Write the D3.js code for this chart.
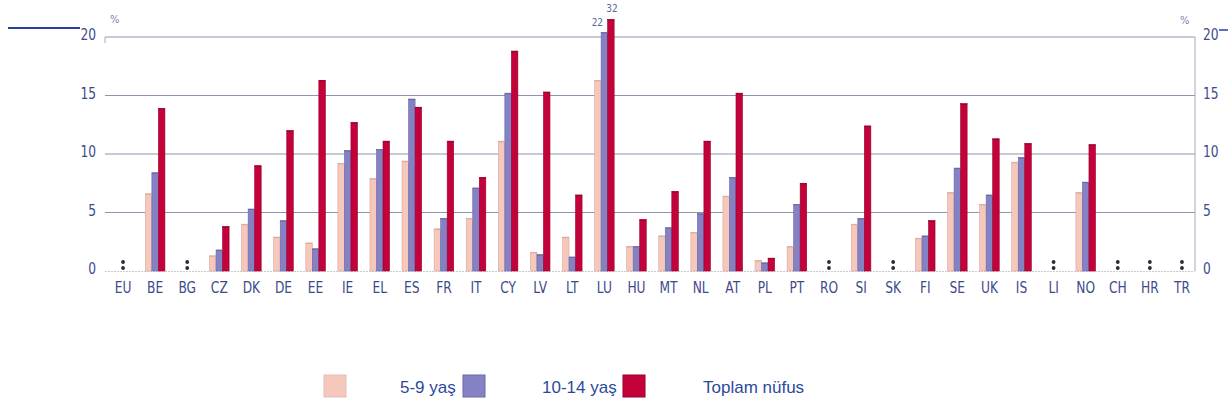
<!DOCTYPE html>
<html><head><meta charset="utf-8">
<script src="https://cdn.jsdelivr.net/npm/d3@7"></script>
<style>
html,body{margin:0;padding:0;background:#fff;}
svg{display:block;}
</style></head>
<body>
<svg id="chart" width="1232" height="411"></svg>
<script>
const categories = ["EU","BE","BG","CZ","DK","DE","EE","IE","EL","ES","FR","IT","CY","LV","LT","LU","HU","MT","NL","AT","PL","PT","RO","SI","SK","FI","SE","UK","IS","LI","NO","CH","HR","TR"];
const age5to9   = [null,6.6,null,1.3,4.0,2.9,2.4,9.2,7.9,9.4,3.6,4.5,11.1,1.6,2.9,16.3,2.1,3.0,3.3,6.4,0.9,2.1,null,4.0,null,2.8,6.7,5.7,9.3,null,6.7,null,null,null];
const age10to14 = [null,8.4,null,1.8,5.3,4.3,1.9,10.3,10.4,14.7,4.5,7.1,15.2,1.4,1.2,22,2.1,3.7,4.9,8.0,0.7,5.7,null,4.5,null,3.0,8.8,6.5,9.7,null,7.6,null,null,null];
const totalPop  = [null,13.9,null,3.8,9.0,12.0,16.3,12.7,11.1,14.0,11.1,8.0,18.8,15.3,6.5,32,4.4,6.8,11.1,15.2,1.1,7.5,null,12.4,null,4.3,14.3,11.3,10.9,null,10.8,null,null,null];
const seriesNames = ["5-9 yaş","10-14 yaş","Toplam nüfus"];
const yTicks = [0,5,10,15,20];
// visual break cap (axis ends at 20; out-of-range bars are drawn cut and labelled)
const breakCaps = [20, 20.4, 21.5];

const colors = ["#f5c8bb","#8482c4","#c3023a"];
const strokes = ["#d8a89c","#6a68a6","#98002e"];
const svg = d3.select("#chart");
const font = "'DejaVu Sans Condensed','Liberation Sans',sans-serif";
const textCol = "#3d4b8c";

const x = d3.scaleBand().domain(categories).range([107,1198]).paddingInner(0.39).paddingOuter(0.195);
const y = d3.scaleLinear().domain([0,20]).range([271,37]);
const xs = d3.scaleBand().domain(d3.range(3)).range([0,x.bandwidth()]);

// header decoration
svg.append("line").attr("x1",8).attr("x2",80).attr("y1",28).attr("y2",28).attr("stroke","#2a3fa0").attr("stroke-width",2);
svg.append("line").attr("x1",1219).attr("x2",1228).attr("y1",30).attr("y2",30).attr("stroke","#2a3fa0").attr("stroke-width",1.5);

// gridlines
svg.append("g").selectAll("line").data(yTicks.filter(d=>d>0)).join("line")
  .attr("x1",105).attr("x2",1195).attr("y1",d=>y(d)).attr("y2",d=>y(d))
  .attr("stroke","#8e93b3").attr("stroke-width",1.2);
svg.append("line").attr("x1",105).attr("x2",1195).attr("y1",y(0)+0.5).attr("y2",y(0)+0.5)
  .attr("stroke","#c9cbdc").attr("stroke-width",1).attr("stroke-dasharray","2,1");
svg.append("line").attr("x1",1195).attr("x2",1195).attr("y1",y(20)).attr("y2",y(0))
  .attr("stroke","#a4a8c2").attr("stroke-width",1);
svg.append("line").attr("x1",105).attr("x2",105).attr("y1",y(20)).attr("y2",y(20)+6)
  .attr("stroke","#a4a8c2").attr("stroke-width",1);

// axes
const leftAx = svg.append("g").attr("transform","translate(96,0)")
  .call(d3.axisLeft(y).tickValues(yTicks).tickSize(0).tickPadding(0));
const rightAx = svg.append("g").attr("transform","translate(1203,0)")
  .call(d3.axisRight(y).tickValues(yTicks).tickSize(0).tickPadding(0));
[leftAx,rightAx].forEach(g=>{
  g.select(".domain").remove();
  g.selectAll("text").attr("font-family",font).attr("font-size",16).attr("fill",textCol)
    .attr("y",-3).attr("dy","0.35em").attr("transform","scale(0.85,1)");
});
svg.append("text").attr("x",110).attr("y",23).text("%").attr("font-family",font).attr("font-size",11).attr("fill","#7d86ad");
svg.append("text").attr("x",1180).attr("y",24).text("%").attr("font-family",font).attr("font-size",11).attr("fill","#7d86ad");

const bottomAx = svg.append("g").attr("transform","translate(0,280)")
  .call(d3.axisBottom(x).tickSize(0).tickPadding(0));
bottomAx.select(".domain").remove();
bottomAx.selectAll("text").attr("font-family",font).attr("font-size",16).attr("fill",textCol)
  .attr("dy","0.8em").attr("transform","scale(0.85,1)");

// bars
const series = [age5to9, age10to14, totalPop];
const barData = [];
series.forEach((arr,si)=>arr.forEach((v,ci)=>{ if(v!==null) barData.push({c:categories[ci],s:si,v}); }));
const bars = svg.append("g");
bars.selectAll("rect").data(barData).join("rect")
  .attr("x",d=>x(d.c)+xs(d.s))
  .attr("width",xs.bandwidth())
  .attr("y",d=>y(Math.min(d.v,breakCaps[d.s])))
  .attr("height",d=>y(0)-y(Math.min(d.v,breakCaps[d.s])))
  .attr("fill",d=>colors[d.s])
  .attr("stroke",d=>strokes[d.s]).attr("stroke-width",0.6);
// dark top caps
bars.selectAll("line").data(barData).join("line")
  .attr("x1",d=>x(d.c)+xs(d.s)).attr("x2",d=>x(d.c)+xs(d.s)+xs.bandwidth())
  .attr("y1",d=>y(Math.min(d.v,breakCaps[d.s]))+0.5).attr("y2",d=>y(Math.min(d.v,breakCaps[d.s]))+0.5)
  .attr("stroke",d=>strokes[d.s]).attr("stroke-width",1);

// values beyond the axis
const over = barData.filter(d=>d.v>20 && d.s>0);
svg.append("g").selectAll("text").data(over).join("text")
  .attr("x",d=> d.s===1 ? x(d.c)+xs(d.s)+2 : x(d.c)+xs(d.s)+xs.bandwidth()/2+1)
  .attr("y",d=>y(breakCaps[d.s])-(d.s===1?6:7))
  .attr("text-anchor",d=>d.s===1?"end":"middle")
  .attr("font-family",font).attr("font-size",10).attr("fill","#5c6a93")
  .text(d=>d.v);

// missing markers ":"
const missing = categories.filter((c,i)=>series.every(s=>s[i]===null));
const mg = svg.append("g");
missing.forEach(c=>{
  [262,268].forEach(yy=>{
    mg.append("circle").attr("cx",x(c)+x.bandwidth()/2).attr("cy",yy).attr("r",1.9).attr("fill","#2b2b35");
  });
});

// legend
const legX = [324,463,623];
const legTextX = [400,542,703];
const lg = svg.append("g");
seriesNames.forEach((n,i)=>{
  lg.append("rect").attr("x",legX[i]).attr("y",375).attr("width",22).attr("height",22)
    .attr("fill",colors[i]).attr("stroke",i===0?"#e2c2b8":strokes[i]).attr("stroke-width",1);
  lg.append("text").attr("x",legTextX[i]).attr("y",393).text(n)
    .attr("font-family","'Liberation Sans',Arial,sans-serif").attr("font-size",17).attr("fill","#2c4a9c");
});
</script>
</body></html>
